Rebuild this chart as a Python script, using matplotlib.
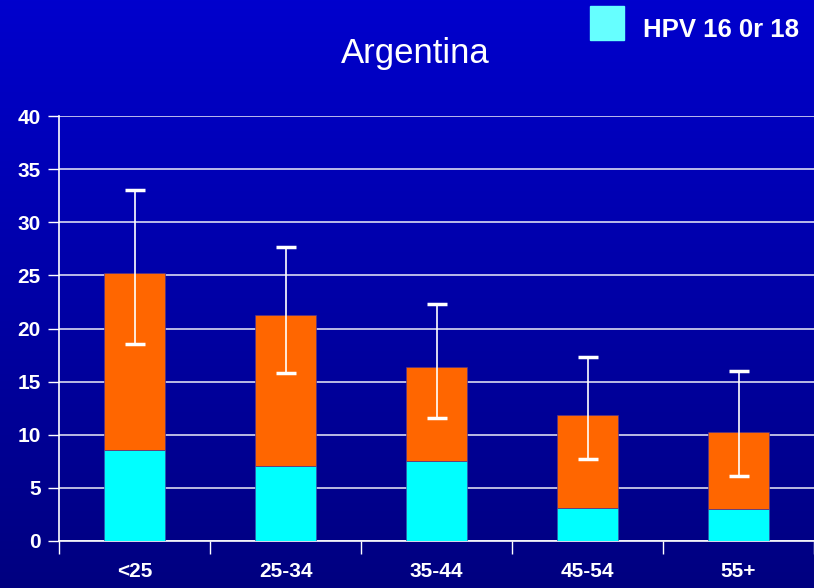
import matplotlib.pyplot as plt
import numpy as np

# values
groups = ['<25', '25-34', '35-44', '45-54', '55+']
hpv16_18 = [8.6, 7.1, 7.5, 3.1, 3.0]
total = [25.2, 21.3, 16.4, 11.9, 10.3]
ci_low = [18.5, 15.8, 11.6, 7.7, 6.1]
ci_high = [33.0, 27.7, 22.3, 17.3, 16.0]
yticks = [0, 5, 10, 15, 20, 25, 30, 35, 40]

other = [t - h for t, h in zip(total, hpv16_18)]

plt.rcParams['font.family'] = ['Liberation Sans', 'DejaVu Sans']

fig = plt.figure(figsize=(8.14, 5.88), dpi=100)

# blue gradient background
bg = fig.add_axes([0, 0, 1, 1], zorder=-10)
grad = np.linspace(0, 1, 256).reshape(-1, 1)
top = np.array([0, 0, 205]) / 255
bot = np.array([0, 0, 128]) / 255
img = top + (bot - top) * grad[..., None]
bg.imshow(img, aspect='auto', extent=[0, 1, 0, 1])
bg.axis('off')

ax = fig.add_axes([59 / 814, 47 / 588, 755 / 814, 425 / 588])
ax.patch.set_alpha(0)

x = np.arange(len(groups))
ax.bar(x, hpv16_18, width=0.4, color='#00FFFF', edgecolor='#3355aa', linewidth=0.5, zorder=3)
ax.bar(x, other, bottom=hpv16_18, width=0.4, color='#FF6600', edgecolor='#553388',
       linewidth=0.5, zorder=3)

err = [np.array(total) - np.array(ci_low), np.array(ci_high) - np.array(total)]
ax.errorbar(x, total, yerr=err, fmt='none', ecolor='white', elinewidth=1.2,
            capsize=7, capthick=2.5, zorder=4)

ax.set_xlim(-0.5, len(groups) - 0.5)
ax.set_ylim(0, 40)
ax.set_yticks(yticks)
ax.set_yticklabels([str(v) for v in yticks], color='white', fontsize=15, fontweight='bold')
ax.yaxis.grid(True, color='white', linewidth=1.2, alpha=0.85, zorder=0)
ax.tick_params(axis='y', colors='white', length=8, width=1, pad=5)

ax.set_xticks(np.arange(len(groups) + 1) - 0.5)
ax.set_xticklabels([])
ax.set_xticks(x, minor=True)
ax.set_xticklabels(groups, minor=True, color='white', fontsize=15, fontweight='bold')
ax.tick_params(axis='x', which='major', colors='white', length=9, width=1)
ax.tick_params(axis='x', which='minor', length=0, pad=15)

for side in ['top', 'right']:
    ax.spines[side].set_visible(False)
for side in ['left', 'bottom']:
    ax.spines[side].set_color('white')
    ax.spines[side].set_linewidth(1.2)

fig.text(415 / 814, 1 - 53 / 588, 'Argentina', color='white', fontsize=25,
         ha='center', va='center')

# legend box
fig.patches.append(plt.Rectangle((590 / 814, 1 - 40 / 588), 34 / 814, 34 / 588,
                                 transform=fig.transFigure, color='#66FFFF'))
fig.text(643 / 814, 1 - 30 / 588, 'HPV 16 0r 18', color='white', fontsize=18.5,
         fontweight='bold', ha='left', va='center')

fig.savefig('out.png', dpi=100)
